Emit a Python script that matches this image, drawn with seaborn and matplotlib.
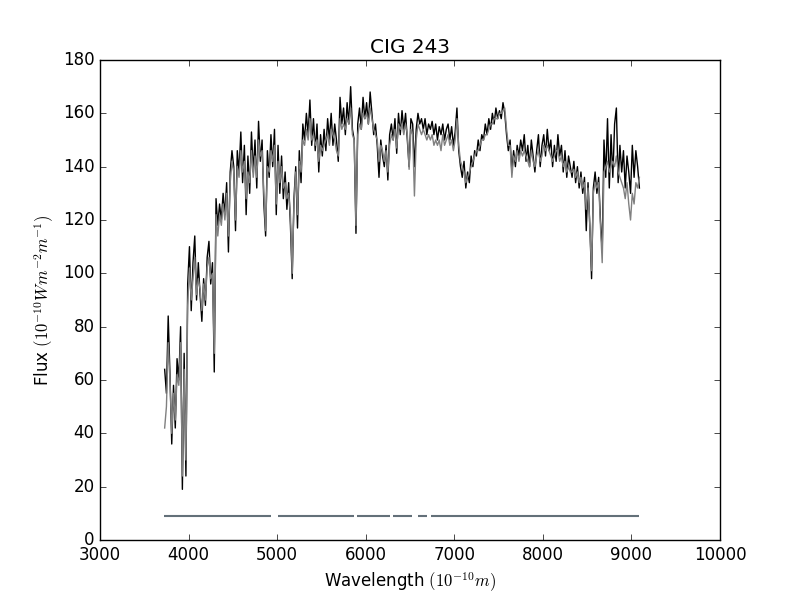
import numpy as np
import matplotlib
matplotlib.use('Agg')
import matplotlib.pyplot as plt
import seaborn as sns

plt.style.use('classic')

# wavelength grid (Angstrom), 20 A steps
wave = np.arange(3730, 9091, 20)

# observed flux (black)
obs_flux = [
    64, 55, 84, 62, 36, 58, 42, 68, 60, 80,
    19, 70, 24, 96, 110, 86, 104, 114, 90, 104,
    92, 82, 98, 88, 106, 112, 96, 104, 63, 128,
    118, 126, 120, 130, 122, 134, 108, 138, 146, 140,
    116, 146, 138, 153, 134, 148, 122, 144, 130, 153,
    138, 150, 132, 157, 142, 150, 126, 114, 146, 136,
    152, 140, 154, 122, 148, 130, 144, 128, 138, 124,
    134, 118, 98, 128, 140, 117, 146, 134, 156, 150,
    160, 152, 165, 148, 158, 146, 156, 138, 152, 144,
    154, 146, 158, 150, 160, 148, 156, 150, 142, 166,
    156, 162, 152, 164, 156, 170, 154, 150, 115, 156,
    162, 154, 166, 158, 164, 156, 168, 160, 152, 156,
    148, 136, 150, 144, 140, 148, 135, 152, 156, 150,
    158, 145, 160, 152, 161, 154, 160, 150, 140, 158,
    156, 140, 154, 160, 156, 158, 154, 158, 152, 156,
    154, 157, 152, 156, 150, 155, 152, 156, 150, 154,
    156, 150, 155, 148, 153, 162, 146, 140, 136, 142,
    132, 138, 134, 144, 140, 146, 144, 150, 146, 152,
    150, 156, 152, 158, 154, 160, 156, 162, 158, 161,
    158, 164, 160, 152, 146, 150, 138, 146, 140, 148,
    144, 150, 146, 152, 142, 148, 140, 150, 144, 138,
    146, 152, 140, 148, 152, 144, 154, 146, 150, 140,
    148, 142, 152, 144, 148, 138, 146, 136, 144, 140,
    136, 142, 134, 140, 132, 138, 130, 136, 116, 134,
    118, 98, 132, 138, 130, 136, 120, 108, 150, 136,
    158, 132, 152, 136, 156, 162, 134, 148, 138, 146,
    132, 144, 138, 130, 148, 136, 146, 140, 132,
]

# synthetic fit (gray)
model_flux = [
    42, 50, 74, 60, 40, 55, 45, 62, 58, 74,
    24, 64, 30, 88, 102, 90, 98, 106, 92, 98,
    94, 86, 96, 90, 102, 106, 98, 100, 70, 122,
    114, 122, 118, 126, 120, 130, 114, 134, 142, 138,
    120, 140, 136, 146, 138, 142, 128, 138, 134, 146,
    136, 144, 136, 150, 144, 146, 130, 116, 140, 138,
    146, 142, 148, 126, 142, 134, 140, 132, 134, 128,
    130, 122, 100, 126, 138, 122, 142, 138, 150, 148,
    154, 150, 158, 150, 152, 148, 150, 142, 148, 146,
    148, 150, 152, 148, 154, 152, 150, 146, 144, 158,
    154, 156, 154, 158, 156, 162, 152, 150, 118, 152,
    156, 154, 160, 158, 160, 156, 162, 158, 154, 152,
    150, 142, 148, 146, 142, 146, 138, 148, 152, 150,
    154, 147, 156, 154, 156, 152, 156, 152, 139, 154,
    152, 129, 150, 156, 154, 152, 154, 152, 150, 152,
    150, 152, 148, 150, 148, 150, 146, 152, 148, 150,
    152, 148, 150, 146, 150, 158, 148, 142, 140, 138,
    134, 136, 138, 140, 142, 144, 146, 146, 148, 150,
    150, 152, 152, 154, 156, 156, 158, 158, 158, 160,
    160, 161, 162, 154, 148, 148, 136, 144, 142, 146,
    142, 146, 144, 146, 144, 142, 140, 146, 142, 140,
    144, 146, 142, 144, 148, 146, 148, 146, 144, 142,
    144, 146, 146, 142, 144, 140, 142, 138, 140, 138,
    138, 139, 136, 138, 134, 136, 132, 134, 124, 132,
    118, 101, 130, 134, 132, 134, 118, 104, 138, 140,
    142, 138, 140, 142, 140, 144, 138, 136, 134, 132,
    128, 134, 126, 120, 130, 126, 134, 132, 136,
]

# masked regions (start, end) drawn at the bottom
mask_start = [3725, 5007, 5900, 6308, 6590, 6734]
mask_end = [4932, 5863, 6278, 6527, 6697, 9087]
mask_level = 9

fig, ax = plt.subplots(figsize=(8, 6), dpi=100)

sns.lineplot(x=wave, y=obs_flux, color='black', lw=1, ax=ax,
             estimator=None, sort=False)
sns.lineplot(x=wave, y=model_flux, color='gray', lw=1, ax=ax,
             estimator=None, sort=False)
ax.hlines([mask_level] * len(mask_start), mask_start, mask_end,
          colors='#637079', lw=1.5)

ax.set_xlim(3000, 10000)
ax.set_ylim(0, 180)
ax.set_title('CIG 243')
ax.set_xlabel(r'Wavelength $(10^{-10} m)$')
ax.set_ylabel(r'Flux $(10^{-10} W m^{-2} m^{-1})$')

fig.savefig('out.png', dpi=100)
